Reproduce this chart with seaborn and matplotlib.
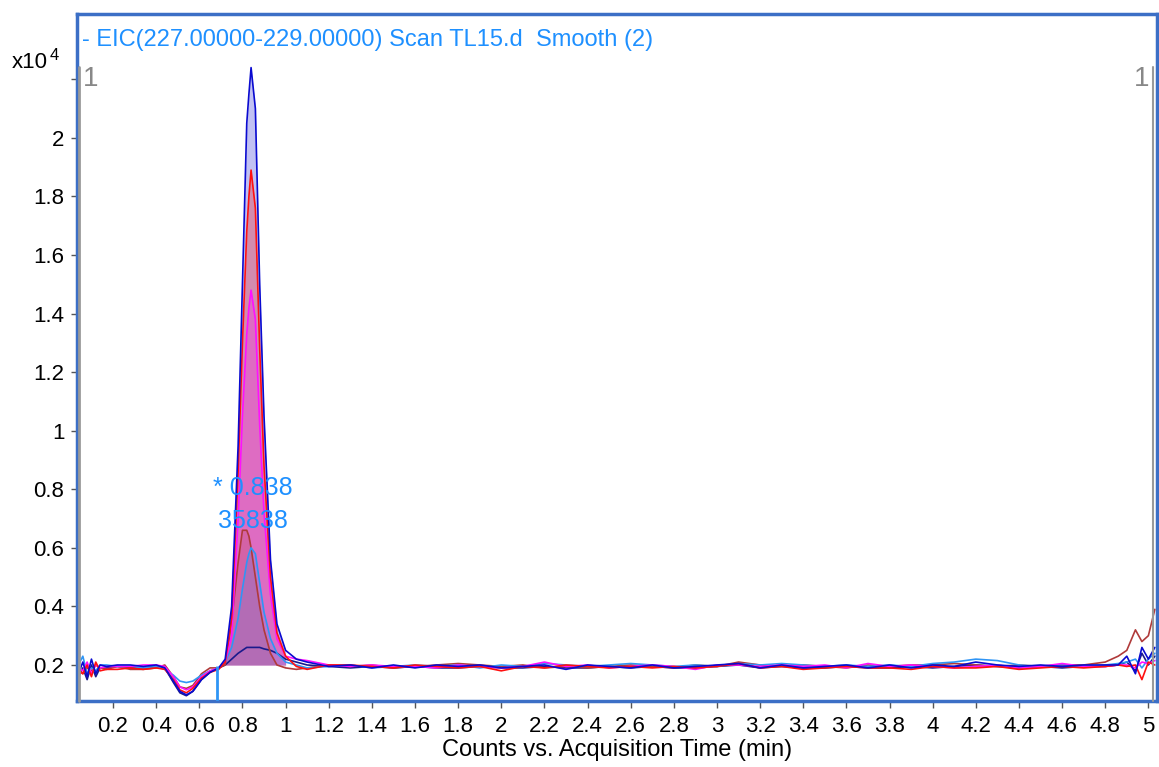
import matplotlib
matplotlib.use("Agg")
import matplotlib.pyplot as plt
import seaborn as sns
import pandas as pd
import numpy as np

# acquisition time (min)
times = [
    0.04, 0.06, 0.08, 0.10, 0.12, 0.14, 0.17, 0.22, 0.28, 0.34,
    0.40, 0.44, 0.48, 0.51, 0.54, 0.57, 0.61, 0.65, 0.69, 0.72,
    0.75, 0.78, 0.80, 0.82, 0.83, 0.84, 0.86, 0.88, 0.90, 0.93,
    0.96, 1.00, 1.05, 1.10, 1.20, 1.30, 1.40, 1.50, 1.60, 1.70,
    1.80, 1.90, 2.00, 2.10, 2.20, 2.30, 2.40, 2.50, 2.60, 2.70,
    2.80, 2.90, 3.00, 3.10, 3.20, 3.30, 3.40, 3.50, 3.60, 3.70,
    3.80, 3.90, 4.00, 4.10, 4.20, 4.30, 4.40, 4.50, 4.60, 4.70,
    4.80, 4.86, 4.90, 4.94, 4.97, 5.00, 5.03,
]

# counts x10^4
blue = [
    0.17, 0.21, 0.16, 0.22, 0.17, 0.20, 0.195, 0.20, 0.20, 0.195,
    0.20, 0.19, 0.145, 0.11, 0.098, 0.11, 0.15, 0.175, 0.19, 0.22,
    0.40, 0.95, 1.50, 2.05, 2.15, 2.24, 2.10, 1.50, 1.05, 0.56,
    0.34, 0.25, 0.22, 0.21, 0.195, 0.20, 0.19, 0.20, 0.19, 0.20,
    0.195, 0.20, 0.19, 0.195, 0.20, 0.185, 0.20, 0.195, 0.19, 0.20,
    0.19, 0.195, 0.20, 0.205, 0.19, 0.20, 0.19, 0.195, 0.20, 0.19,
    0.20, 0.19, 0.20, 0.195, 0.21, 0.20, 0.195, 0.20, 0.195, 0.20,
    0.20, 0.20, 0.23, 0.17, 0.26, 0.22, 0.26,
]
red = [
    0.18, 0.17, 0.20, 0.16, 0.21, 0.18, 0.185, 0.185, 0.19, 0.185,
    0.19, 0.185, 0.15, 0.115, 0.105, 0.12, 0.155, 0.175, 0.185, 0.21,
    0.36, 0.86, 1.30, 1.68, 1.80, 1.89, 1.76, 1.28, 0.88, 0.50,
    0.31, 0.23, 0.195, 0.185, 0.20, 0.20, 0.195, 0.19, 0.20, 0.195,
    0.19, 0.195, 0.18, 0.195, 0.19, 0.20, 0.195, 0.19, 0.195, 0.19,
    0.195, 0.19, 0.195, 0.205, 0.19, 0.195, 0.185, 0.19, 0.195, 0.19,
    0.19, 0.185, 0.195, 0.19, 0.19, 0.195, 0.185, 0.19, 0.195, 0.19,
    0.195, 0.20, 0.195, 0.20, 0.15, 0.21, 0.20,
]
magenta = [
    0.19, 0.18, 0.21, 0.17, 0.20, 0.19, 0.195, 0.195, 0.195, 0.20,
    0.20, 0.195, 0.16, 0.125, 0.115, 0.125, 0.16, 0.18, 0.19, 0.21,
    0.30, 0.70, 1.05, 1.33, 1.42, 1.48, 1.38, 1.02, 0.72, 0.44,
    0.29, 0.23, 0.22, 0.215, 0.20, 0.195, 0.20, 0.195, 0.195, 0.19,
    0.20, 0.195, 0.19, 0.195, 0.21, 0.195, 0.20, 0.19, 0.195, 0.20,
    0.195, 0.185, 0.20, 0.20, 0.195, 0.20, 0.195, 0.20, 0.19, 0.205,
    0.195, 0.20, 0.195, 0.19, 0.195, 0.20, 0.19, 0.195, 0.205, 0.195,
    0.195, 0.20, 0.20, 0.19, 0.21, 0.205, 0.215,
]
brown = [
    0.19, 0.17, 0.19, 0.18, 0.20, 0.19, 0.185, 0.195, 0.185, 0.185,
    0.19, 0.20, 0.16, 0.125, 0.12, 0.13, 0.17, 0.19, 0.19, 0.20,
    0.35, 0.55, 0.66, 0.66, 0.64, 0.60, 0.50, 0.40, 0.32, 0.24,
    0.20, 0.19, 0.185, 0.19, 0.20, 0.195, 0.20, 0.19, 0.195, 0.20,
    0.205, 0.20, 0.195, 0.20, 0.19, 0.195, 0.19, 0.195, 0.20, 0.195,
    0.19, 0.20, 0.195, 0.21, 0.20, 0.195, 0.20, 0.195, 0.19, 0.20,
    0.195, 0.20, 0.20, 0.205, 0.20, 0.195, 0.20, 0.195, 0.20, 0.20,
    0.21, 0.23, 0.25, 0.32, 0.28, 0.30, 0.39,
]
lightblue = [
    0.20, 0.23, 0.17, 0.19, 0.18, 0.20, 0.20, 0.195, 0.195, 0.19,
    0.195, 0.185, 0.165, 0.145, 0.14, 0.145, 0.165, 0.18, 0.19, 0.21,
    0.26, 0.36, 0.46, 0.55, 0.58, 0.60, 0.58, 0.48, 0.38, 0.29,
    0.24, 0.21, 0.20, 0.19, 0.195, 0.20, 0.19, 0.195, 0.20, 0.195,
    0.20, 0.19, 0.20, 0.195, 0.205, 0.20, 0.195, 0.20, 0.205, 0.20,
    0.195, 0.20, 0.195, 0.205, 0.20, 0.205, 0.20, 0.195, 0.20, 0.195,
    0.20, 0.195, 0.205, 0.21, 0.22, 0.215, 0.20, 0.195, 0.20, 0.195,
    0.20, 0.205, 0.21, 0.22, 0.19, 0.22, 0.24,
]
navy = [
    0.16, 0.19, 0.15, 0.20, 0.16, 0.19, 0.19, 0.195, 0.19, 0.19,
    0.195, 0.19, 0.14, 0.105, 0.095, 0.11, 0.15, 0.175, 0.19, 0.20,
    0.22, 0.24, 0.25, 0.26, 0.26, 0.26, 0.26, 0.26, 0.255, 0.25,
    0.24, 0.22, 0.21, 0.20, 0.195, 0.19, 0.195, 0.19, 0.195, 0.19,
    0.19, 0.195, 0.19, 0.19, 0.195, 0.19, 0.19, 0.195, 0.19, 0.195,
    0.19, 0.19, 0.195, 0.20, 0.19, 0.195, 0.19, 0.19, 0.195, 0.19,
    0.19, 0.195, 0.19, 0.195, 0.20, 0.195, 0.19, 0.195, 0.19, 0.195,
    0.195, 0.20, 0.21, 0.18, 0.24, 0.20, 0.23,
]

series = {"navy": navy, "brown": brown, "lightblue": lightblue,
          "magenta": magenta, "red": red, "blue": blue}
colors = {"navy": "#1a1a8c", "brown": "#b03a3a", "lightblue": "#2f95f5",
          "magenta": "#ff10ff", "red": "#ff1010", "blue": "#0a0ad0"}
# peak fills, back to front
fill_order = ["blue", "red", "magenta", "brown", "lightblue"]
fill_alpha = {"blue": 0.25, "red": 0.3, "magenta": 0.25, "brown": 0.2, "lightblue": 0.2}
peak_window = (0.72, 1.00)
fill_base = 0.2

x_ticks = [0.2, 0.4, 0.6, 0.8, 1, 1.2, 1.4, 1.6, 1.8, 2, 2.2, 2.4, 2.6, 2.8, 3,
           3.2, 3.4, 3.6, 3.8, 4, 4.2, 4.4, 4.6, 4.8, 5]
y_ticks = [0.2, 0.4, 0.6, 0.8, 1, 1.2, 1.4, 1.6, 1.8, 2, 2.2]
y_labels = ["0.2", "0.4", "0.6", "0.8", "1", "1.2", "1.4", "1.6", "1.8", "2", ""]
marker_time = 0.68
peak_rt = "* 0.838"
peak_area = "35838"
title = "- EIC(227.00000-229.00000) Scan TL15.d  Smooth (2)"

df = pd.DataFrame({"time": times, **series}).melt(id_vars="time", var_name="trace", value_name="counts")

sns.set_style("white")
plt.rcParams["font.family"] = ["Liberation Sans", "DejaVu Sans"]
plt.rcParams["text.color"] = "black"
plt.rcParams["axes.labelcolor"] = "black"

fig = plt.figure(figsize=(11.59, 7.67), dpi=100)
ax = fig.add_axes([77 / 1159, 66 / 767, 1080 / 1159, 687 / 767])

t = np.array(times)
mask = (t >= peak_window[0]) & (t <= peak_window[1])
for name in fill_order:
    s = np.array(series[name])
    ax.fill_between(t[mask], s[mask], fill_base, color=colors[name],
                    alpha=fill_alpha[name], linewidth=0, zorder=1)

sns.lineplot(data=df, x="time", y="counts", hue="trace", palette=colors,
             estimator=None, sort=False, linewidth=1.2, legend=False, ax=ax, zorder=2)

ax.set_xlim(0.033, 5.04)
ax.set_ylim(0.077, 2.423)

# integration start marker
ax.vlines(marker_time, 0.077, 0.195, color="#2f95f5", linewidth=2, zorder=3)

ax.set_xticks(x_ticks)
ax.set_xticklabels([f"{v:g}" for v in x_ticks])
ax.set_yticks(y_ticks)
ax.set_yticklabels(y_labels)
ax.tick_params(axis="x", direction="out", length=5, width=1, color="#555555",
               labelcolor="black", labelsize=16, pad=6, bottom=True)
ax.tick_params(axis="y", direction="out", length=4, width=1, color="#555555",
               labelcolor="black", labelsize=16, pad=5, left=True)
ax.set_xlabel("Counts vs. Acquisition Time (min)", fontsize=17, labelpad=1)
ax.set_ylabel("")

for sp in ax.spines.values():
    sp.set_color("#3c6fc6")
    sp.set_linewidth(2.5)

# gray cursor lines with their labels
ax.plot([0.002, 0.002], [0, 0.923], transform=ax.transAxes, color="#999999",
        linewidth=2, clip_on=False, zorder=5)
ax.plot([0.9965, 0.9965], [0, 0.923], transform=ax.transAxes, color="#999999",
        linewidth=1.5, clip_on=False, zorder=5)
ax.text(0.005, 0.905, "1", transform=ax.transAxes, fontsize=20, color="#888888",
        ha="left", va="center")
ax.text(0.993, 0.905, "1", transform=ax.transAxes, fontsize=20, color="#888888",
        ha="right", va="center")

ax.text(0.005, 0.962, title, transform=ax.transAxes, fontsize=17, color="#1e90ff",
        ha="left", va="center")
ax.text(0.847, 0.805, peak_rt, fontsize=18, color="#1e90ff", ha="center", va="center")
ax.text(0.847, 0.69, peak_area, fontsize=18, color="#1e90ff", ha="center", va="center")

fig.text(12 / 1159, 1 - 62 / 767, "x10", fontsize=16, ha="left", va="center")
fig.text(50 / 1159, 1 - 55 / 767, "4", fontsize=12, ha="left", va="center")

fig.savefig("out.png", dpi=100)
